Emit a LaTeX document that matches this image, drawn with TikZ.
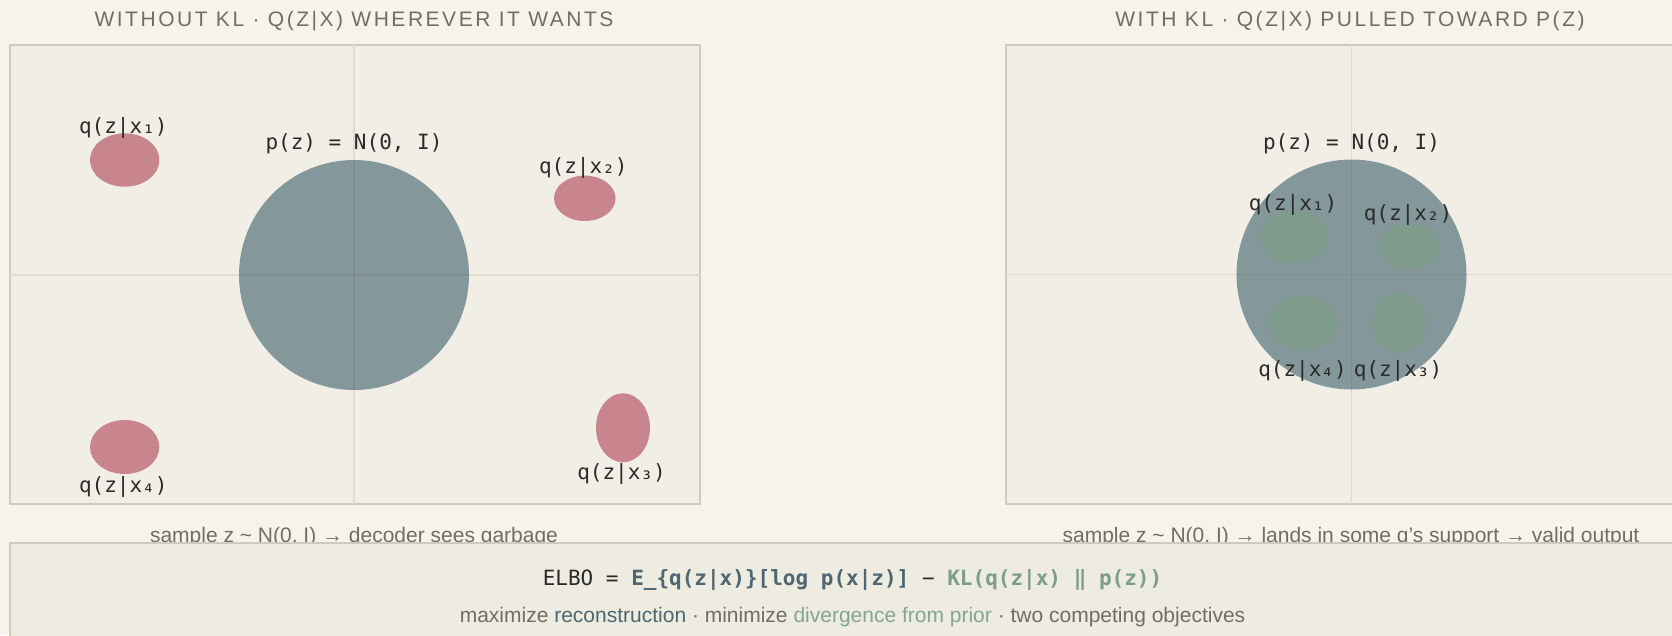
\documentclass[tikz,border=0pt]{standalone}
\usepackage{fontspec}
\setmainfont{Liberation Sans}
\newfontfamily\monofont{DejaVu Sans Mono}
\newfontfamily\titlefont[LetterSpace=12]{Liberation Sans}
\definecolor{pagebg}{HTML}{F7F3E9}
\definecolor{panelbg}{HTML}{F1EEE6}
\definecolor{bottombg}{HTML}{EEEBE0}
\definecolor{panelline}{HTML}{CFCBBC}
\definecolor{axisline}{HTML}{DFDBCD}
\definecolor{prior}{HTML}{84979A}
\definecolor{qpink}{HTML}{C8858D}
\definecolor{qgreen}{HTML}{7F9B8B}
\definecolor{titlegrey}{HTML}{6E6E69}
\definecolor{labeldark}{HTML}{2A2A2A}
\definecolor{slate}{HTML}{4D6672}
\definecolor{sage}{HTML}{7C9E85}
\definecolor{sagelight}{HTML}{84A68C}
\begin{document}
\begin{tikzpicture}[x=1pt,y=-1pt,
  paneltitle/.style={inner sep=0pt,anchor=base,text=titlegrey,font=\titlefont\fontsize{21}{24}\selectfont},
  qlabel/.style={inner sep=0pt,anchor=base,text=labeldark,font=\monofont\fontsize{21}{25}\selectfont},
  caption/.style={inner sep=0pt,anchor=base,text=titlegrey,font=\fontsize{21}{24}\selectfont},
  panel/.style={fill=panelbg,draw=panelline,line width=2pt},
  axis/.style={draw=axisline,line width=1.2pt},
  axisover/.style={draw=black,draw opacity=0.06,line width=1.2pt}
]
\useasboundingbox (0,0) rectangle (1672,635);
\clip (0,0) rectangle (1672,635);
\fill[pagebg] (0,0) rectangle (1672,635);

% titles
\node[paneltitle] (t1) at (354,26.7) {WITHOUT KL · Q(Z|X) WHEREVER IT WANTS};
\node[paneltitle] (t2) at (1350,26.7) {WITH KL · Q(Z|X) PULLED TOWARD P(Z)};

% left panel
\draw[panel] (9.6,44.5) rectangle (699.5,504.4);
\draw[axis] (354,44.5) -- (354,504.4);
\draw[axis] (9.6,275) -- (699.5,275);
\fill[prior] (354,275) circle[radius=115pt];
\draw[axisover] (354,160) -- (354,390);
\draw[axisover] (239,275) -- (469,275);
\fill[qpink] (124.7,160) ellipse[x radius=34.7pt,y radius=26.7pt];
\fill[qpink] (584.8,198.3) ellipse[x radius=30.8pt,y radius=22.7pt];
\fill[qpink] (623,427.8) ellipse[x radius=27pt,y radius=34.5pt];
\fill[qpink] (124.7,447) ellipse[x radius=34.7pt,y radius=27pt];
\node[qlabel] (lp) at (354,149.3) {p(z) = N(0, I)};
\node[qlabel] (lq1) at (123.3,133.3) {q(z|x₁)};
\node[qlabel] (lq2) at (583.3,173.3) {q(z|x₂)};
\node[qlabel] (lq3) at (621.5,479) {q(z|x₃)};
\node[qlabel] (lq4) at (123.3,492.7) {q(z|x₄)};

% right panel
\draw[panel] (1005.6,44.5) rectangle (1696,504.4);
\draw[axis] (1351.5,44.5) -- (1351.5,504.4);
\draw[axis] (1005.6,274.5) -- (1696,274.5);
\fill[prior] (1351.5,274.5) circle[radius=115pt];
\draw[axisover] (1351.5,159.5) -- (1351.5,389.5);
\draw[axisover] (1236.5,274.5) -- (1466.5,274.5);
\fill[qgreen] (1294,236.7) ellipse[x radius=34pt,y radius=26.7pt];
\fill[qgreen] (1409,246.7) ellipse[x radius=30.5pt,y radius=22.5pt];
\fill[qgreen] (1399,322.7) ellipse[x radius=26.7pt,y radius=30.5pt];
\fill[qgreen] (1303,322.7) ellipse[x radius=34.3pt,y radius=26.7pt];
\node[qlabel] (rp) at (1351.5,149.3) {p(z) = N(0, I)};
\node[qlabel] (rq1) at (1293,210.7) {q(z|x₁)};
\node[qlabel] (rq2) at (1408,220) {q(z|x₂)};
\node[qlabel] (rq3) at (1398,376) {q(z|x₃)};
\node[qlabel] (rq4) at (1302.5,376) {q(z|x₄)};

% captions (partly hidden by the bottom panel)
\node[caption] (c1) at (354,542) {sample z \char"007E{} N(0, I) → decoder sees garbage};
\node[caption] (c2) at (1351,542) {sample z \char"007E{} N(0, I) → lands in some q's support → valid output};

% bottom panel
\draw[fill=bottombg,draw=panelline,line width=2pt] (9.6,543) rectangle (1696,660);
\node[qlabel] (elbo) at (852.5,585.5) {ELBO = \textcolor{slate}{\bfseries E\_\{q(z|x)\}[log p(x|z)]} − \textcolor{sage}{\bfseries KL(q(z|x) ‖ p(z))}};
\node[caption] (sub) at (852.5,622) {maximize \textcolor{slate}{reconstruction} · minimize \textcolor{sagelight}{divergence from prior} · two competing objectives};
\end{tikzpicture}
\end{document}
